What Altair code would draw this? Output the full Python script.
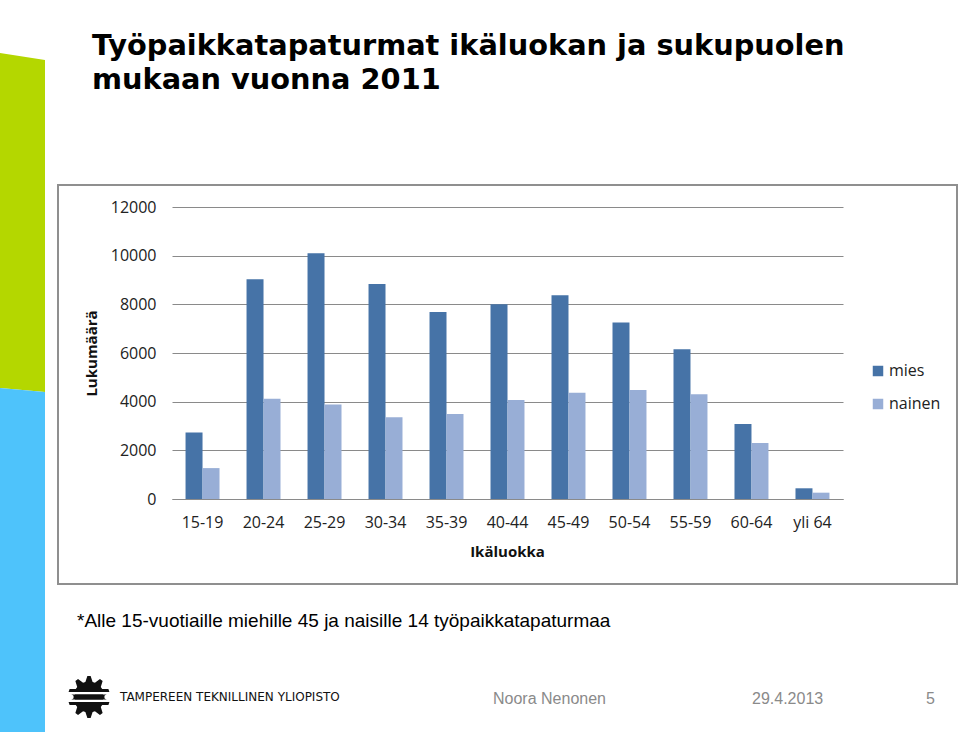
import math
import altair as alt
import pandas as pd

# ---- data ----
ages = ["15-19", "20-24", "25-29", "30-34", "35-39", "40-44",
        "45-49", "50-54", "55-59", "60-64", "yli 64"]
mies = [2730, 9030, 10100, 8840, 7680, 8000, 8370, 7250, 6150, 3080, 440]
nainen = [1270, 4120, 3880, 3360, 3490, 4070, 4370, 4480, 4300, 2300, 260]
series = ["mies", "nainen"]
colors = ["#4673a7", "#98aed6"]
y_ticks = [0, 2000, 4000, 6000, 8000, 10000, 12000]

title_lines = ["Työpaikkatapaturmat ikäluokan ja sukupuolen", "mukaan vuonna 2011"]
footnote = "*Alle 15-vuotiaille miehille 45 ja naisille 14 työpaikkatapaturmaa"
author = "Noora Nenonen"
date = "29.4.2013"
page = "5"
university = "TAMPEREEN TEKNILLINEN YLIOPISTO"

rows = []
for i, a in enumerate(ages):
    rows.append({"Ikäluokka": a, "sukupuoli": "mies", "Lukumäärä": mies[i]})
    rows.append({"Ikäluokka": a, "sukupuoli": "nainen", "Lukumäärä": nainen[i]})
df = pd.DataFrame(rows)

# plot origin in page pixels
OX, OY = 172, 207
W, H = 671, 292
one = alt.Data(values=[{}])


def poly(points, color):
    xs = [p[0] for p in points]
    ys = [p[1] for p in points]
    cx = (min(xs) + max(xs)) / 2
    cy = (min(ys) + max(ys)) / 2
    r = max(max(xs) - min(xs), max(ys) - min(ys)) / 2 + 1
    path = "M" + " L".join(f"{(x - cx) / r:.4f},{(y - cy) / r:.4f}" for x, y in points) + " Z"
    return alt.Chart(one).mark_point(
        shape=path, size=(2 * r) ** 2, filled=True, fill=color, opacity=1, strokeWidth=0
    ).encode(x=alt.value(cx - OX), y=alt.value(cy - OY))


def rect(x1, y1, x2, y2, **kw):
    return alt.Chart(one).mark_rect(**kw).encode(
        x=alt.value(x1 - OX), x2=alt.value(x2 - OX),
        y=alt.value(y1 - OY), y2=alt.value(y2 - OY))


def text(s, x, y, **kw):
    return alt.Chart(one).mark_text(text=s, **kw).encode(
        x=alt.value(x - OX), y=alt.value(y - OY))


# decorative strips
green = poly([(0, 53), (45, 60), (45, 392), (0, 388)], "#b4d700")
blue = poly([(0, 388), (45, 392), (45, 733), (0, 733)], "#4ec3fb")

# chart frame
frame = rect(58, 185, 957, 584, fillOpacity=0, stroke="#8f8f8f", strokeWidth=2)

# gear logo
gcx, gcy = 89, 697
gpts = []
nteeth = 10
for k in range(nteeth * 4):
    ang = 2 * math.pi * k / (nteeth * 4) + math.pi / (nteeth * 4)
    rr = 21 if (k % 4) in (1, 2) else 15.5
    gpts.append((gcx + rr * math.cos(ang), gcy + rr * math.sin(ang)))
gear = poly(gpts, "#111111")
stripe1 = rect(66, 692, 112, 694.5, fill="white")
stripe2 = rect(66, 699.5, 112, 702, fill="white")
gbar = rect(75, 694.5, 103, 699.5, fill="#111111")

bars = alt.Chart(df).mark_bar().encode(
    x=alt.X("Ikäluokka:N", sort=ages,
            scale=alt.Scale(paddingInner=0.443, paddingOuter=0.222),
            axis=alt.Axis(labelAngle=0, labelFont="Open Sans", labelFontSize=16,
                          labelColor="#222222", labelPadding=15, ticks=False,
                          domainColor="#8a8a8a", title="Ikäluokka",
                          titleFont="Open Sans", titleFontSize=15, titleFontWeight="bold",
                          titleColor="#111111", titleX=335, titleY=52,
                          titleAlign="center", titleBaseline="middle")),
    xOffset=alt.XOffset("sukupuoli:N", sort=series,
                        scale=alt.Scale(paddingInner=0, paddingOuter=0)),
    y=alt.Y("Lukumäärä:Q", scale=alt.Scale(domain=[0, 12000], nice=False),
            axis=alt.Axis(values=y_ticks, format="d", labelFont="Open Sans",
                          labelFontSize=16, labelColor="#222222", labelPadding=16,
                          ticks=False, domain=False, grid=True, gridColor="#8a8a8a",
                          gridWidth=1, title="Lukumäärä", titleFont="Open Sans",
                          titleFontSize=15, titleFontWeight="bold", titleColor="#111111",
                          titleX=-81, titleY=146, titleAngle=-90,
                          titleAlign="center", titleBaseline="middle")),
    color=alt.Color("sukupuoli:N", sort=series,
                    scale=alt.Scale(domain=series, range=colors),
                    legend=alt.Legend(title=None, orient="none", legendX=698, legendY=156,
                                      symbolType="square", symbolSize=110,
                                      symbolStrokeWidth=0, labelFont="Open Sans",
                                      labelFontSize=16, labelColor="#222222",
                                      labelOffset=3, rowPadding=17)),
)

t1 = text(title_lines[0], 92, 55, font="DejaVu Sans", fontSize=28.8, fontWeight="bold",
          align="left", baseline="alphabetic", color="#000000")
t2 = text(title_lines[1], 92, 89, font="DejaVu Sans", fontSize=28.8, fontWeight="bold",
          align="left", baseline="alphabetic", color="#000000")
fn = text(footnote, 77, 627, font="Liberation Sans", fontSize=19, align="left",
          baseline="alphabetic", color="#000000")
uni = text(university, 120, 701, font="DejaVu Sans", fontSize=12, align="left",
           baseline="alphabetic", color="#111111")
au = text(author, 493, 704, font="Liberation Sans", fontSize=16, align="left",
          baseline="alphabetic", color="#8a8a8a")
dt = text(date, 752, 704, font="Liberation Sans", fontSize=16, align="left",
          baseline="alphabetic", color="#8a8a8a")
pg = text(page, 926, 704, font="Liberation Sans", fontSize=16, align="left",
          baseline="alphabetic", color="#8a8a8a")

chart = alt.layer(
    green, blue, frame, bars, t1, t2, fn, gear, stripe1, stripe2, gbar, uni, au, dt, pg
).properties(
    width=W, height=H,
    padding={"left": OX, "top": OY, "right": 960 - OX - W, "bottom": 732 - OY - H},
    autosize=alt.AutoSizeParams(type="none"),
    background="white",
).configure_view(stroke=None)

chart.save("out.html", embed_options={"renderer": "svg", "actions": False})
